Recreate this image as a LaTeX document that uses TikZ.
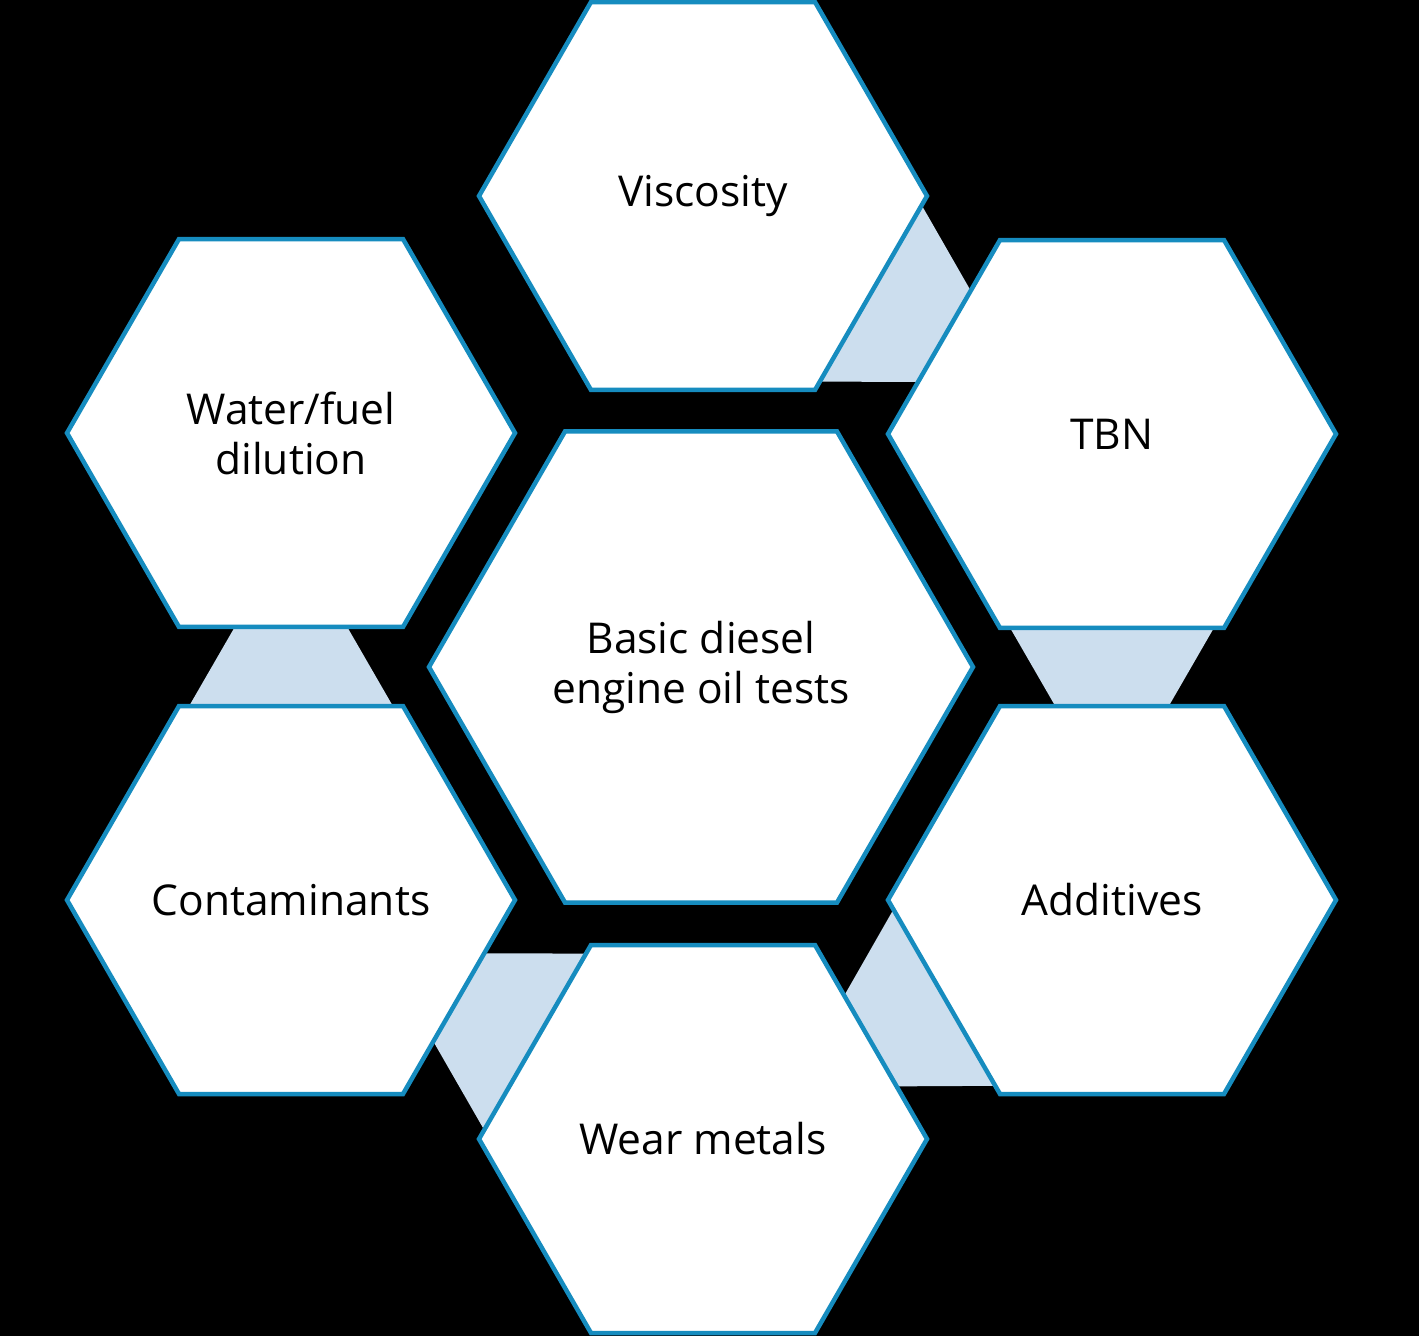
\documentclass[tikz,border=0pt]{standalone}
\usepackage{fontspec}
\setmainfont{Open Sans}
\usetikzlibrary{shapes.geometric,calc}
\definecolor{hexblue}{RGB}{22,140,191}
\definecolor{connblue}{RGB}{204,222,238}
\tikzset{
  x=1pt,y=1pt,
  hexbox/.style={regular polygon, regular polygon sides=6, minimum size=448pt,
    inner sep=0pt, draw=hexblue, line width=4.5pt, fill=white},
  bighex/.style={hexbox, minimum size=544pt},
  hexlabel/.style={inner sep=0pt, align=center, text=black,
    font=\fontsize{42.5}{50}\selectfont},
  connfill/.style={fill=connblue, draw=none}
}
\begin{document}
\begin{tikzpicture}
\fill[black] (0,0) rectangle (1419,-1336);
\useasboundingbox (0,0) rectangle (1419,-1336);
\coordinate (cV) at (703,-196);
\coordinate (cT) at (1112,-434);
\coordinate (cA) at (1112,-900);
\coordinate (cW) at (703,-1139);
\coordinate (cC) at (291,-900);
\coordinate (cF) at (291,-433);
\coordinate (cM) at (701,-667);
% connectors: wide end at first hexagon, narrow end at second
\foreach \a/\b in {cV/cT, cT/cA, cA/cW, cW/cC, cC/cF}{
  \coordinate (pa) at ($(\a)!192pt!(\b)$);
  \coordinate (pb) at ($(\b)!192pt!(\a)$);
  \path let \p1=($(\b)-(\a)$), \n1={veclen(\x1,\y1)}, \n2={103pt-(\n1-384pt)*0.57735} in
    \pgfextra{\xdef\narrow{\n2}};
  \fill[connfill] ($(pa)!103pt!90:(\b)$) -- ($(pa)!103pt!-90:(\b)$)
     -- ($(pb)!\narrow!90:(\a)$) -- ($(pb)!\narrow!-90:(\a)$) -- cycle;
}
\node[hexbox] (visc) at (cV) {};
\node[hexbox] (tbn) at (cT) {};
\node[hexbox] (add) at (cA) {};
\node[hexbox] (wear) at (cW) {};
\node[hexbox] (cont) at (cC) {};
\node[hexbox] (water) at (cF) {};
\node[bighex] (main) at (cM) {};
\node[hexlabel] (visc-t) at (visc.center) {Viscosity};
\node[hexlabel] (tbn-t) at (tbn.center) {TBN};
\node[hexlabel] (add-t) at (add.center) {Additives};
\node[hexlabel] (wear-t) at (wear.center) {Wear metals};
\node[hexlabel] (cont-t) at (cont.center) {Contaminants};
\node[hexlabel] (water-t) at (water.center) {Water/fuel\\dilution};
\node[hexlabel] (main-t) at (main.center) {Basic diesel\\engine oil tests};
\end{tikzpicture}
\end{document}
